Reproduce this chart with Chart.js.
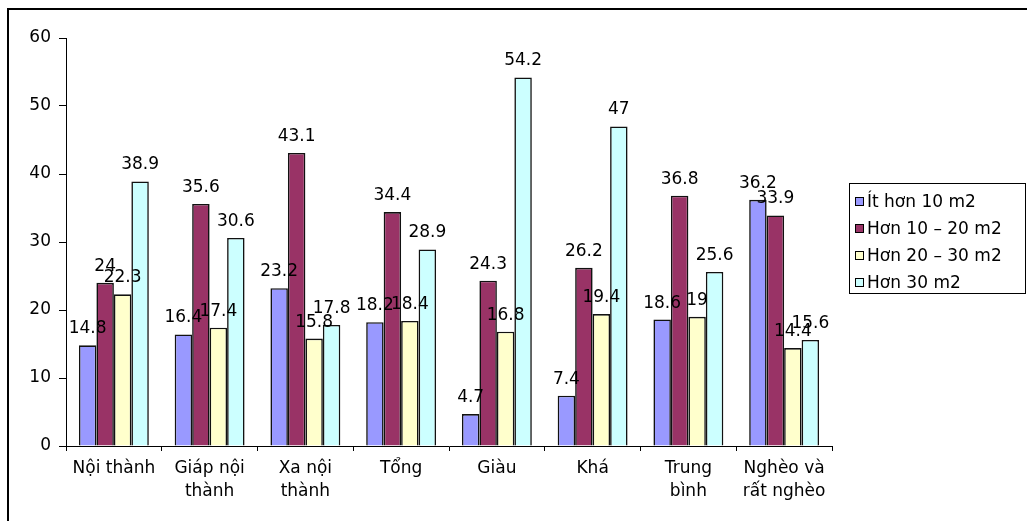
<!DOCTYPE html>
<html>
<head>
<meta charset="utf-8">
<script src="https://cdn.jsdelivr.net/npm/chart.js@4"></script>
<style>
  html, body { margin: 0; padding: 0; background: #fff; }
  #wrap { width: 1027px; height: 521px; position: relative; }
</style>
</head>
<body>
<div id="wrap"><canvas id="chart"></canvas></div>
<script>
// categories (multi-line labels as arrays)
var categories = [
    'Nội thành',
    ['Giáp nội', 'thành'],
    ['Xa nội', 'thành'],
    'Tổng',
    'Giàu',
    'Khá',
    ['Trung', 'bình'],
    ['Nghèo và', 'rất nghèo']
];
var seriesNames = ['Ít hơn 10 m2', 'Hơn 10 – 20 m2', 'Hơn 20 – 30 m2', 'Hơn 30 m2'];
var under10 = [14.8, 16.4, 23.2, 18.2, 4.7, 7.4, 18.6, 36.2];
var from10to20 = [24, 35.6, 43.1, 34.4, 24.3, 26.2, 36.8, 33.9];
var from20to30 = [22.3, 17.4, 15.8, 18.4, 16.8, 19.4, 19, 14.4];
var over30 = [38.9, 30.6, 17.8, 28.9, 54.2, 47, 25.6, 15.6];
var yTicks = [0, 10, 20, 30, 40, 50, 60];

var colors = ['#9999FF', '#993366', '#FFFFCC', '#CCFFFF'];
var FONT = '"DejaVu Sans", Arial, sans-serif';

// outer frame, value labels and legend
var extras = {
    id: 'extras',
    beforeDraw: function(chart) {
        var ctx = chart.ctx;
        ctx.save();
        ctx.fillStyle = '#fff';
        ctx.fillRect(0, 0, chart.width, chart.height);
        ctx.strokeStyle = '#000';
        ctx.lineWidth = 2;
        ctx.strokeRect(8, 9, 2000, 2000);
        ctx.restore();
    },
    afterDatasetsDraw: function(chart) {
        var ctx = chart.ctx;
        ctx.save();
        ctx.font = '17px ' + FONT;
        ctx.fillStyle = '#000';
        ctx.textAlign = 'center';
        ctx.textBaseline = 'alphabetic';
        chart.data.datasets.forEach(function(ds, i) {
            chart.getDatasetMeta(i).data.forEach(function(bar, j) {
                ctx.fillText(String(ds.data[j]), bar.x, bar.y - 12);
            });
        });
        ctx.restore();
    },
    afterDraw: function(chart) {
        var ctx = chart.ctx;
        ctx.save();
        ctx.strokeStyle = '#000';
        ctx.lineWidth = 1;
        ctx.strokeRect(849.5, 183.5, 176, 110);
        ctx.font = '17px ' + FONT;
        ctx.textBaseline = 'middle';
        chart.data.datasets.forEach(function(ds, i) {
            var y = 202 + i * 27;
            ctx.fillStyle = ds.backgroundColor;
            ctx.fillRect(855.5, y - 4.5, 8, 8);
            ctx.strokeRect(855.5, y - 4.5, 8, 8);
            ctx.fillStyle = '#000';
            ctx.fillText(ds.label, 867, y + 1);
        });
        ctx.restore();
    }
};

var datasets = [under10, from10to20, from20to30, over30].map(function(values, i) {
    return {
        label: seriesNames[i],
        data: values,
        backgroundColor: colors[i],
        borderColor: '#111',
        borderWidth: 1.6,
        categoryPercentage: 0.73,
        barPercentage: 1
    };
});

new Chart(document.getElementById('chart'), {
    type: 'bar',
    data: { labels: categories, datasets: datasets },
    options: {
        responsive: true,
        maintainAspectRatio: false,
        animation: false,
        layout: { padding: { top: 38, right: 195, bottom: 0, left: 0 } },
        plugins: {
            legend: { display: false },
            tooltip: { enabled: false }
        },
        scales: {
            x: {
                grid: {
                    drawOnChartArea: false,
                    drawTicks: true,
                    tickLength: 5,
                    color: '#000'
                },
                border: { color: '#000', width: 1 },
                ticks: {
                    color: '#000',
                    font: { family: FONT, size: 17, lineHeight: 1.3 },
                    padding: 7,
                    maxRotation: 0,
                    autoSkip: false
                },
                afterFit: function(scale) { scale.height = 75; }
            },
            y: {
                min: 0,
                max: 60,
                afterBuildTicks: function(scale) {
                    scale.ticks = yTicks.map(function(v) { return { value: v }; });
                },
                grid: {
                    drawOnChartArea: false,
                    drawTicks: true,
                    tickLength: 7,
                    color: '#000'
                },
                border: { color: '#000', width: 1 },
                ticks: {
                    color: '#000',
                    font: { family: FONT, size: 17 },
                    padding: 8
                },
                afterFit: function(scale) { scale.width = 66; }
            }
        }
    },
    plugins: [extras]
});
</script>
</body>
</html>
